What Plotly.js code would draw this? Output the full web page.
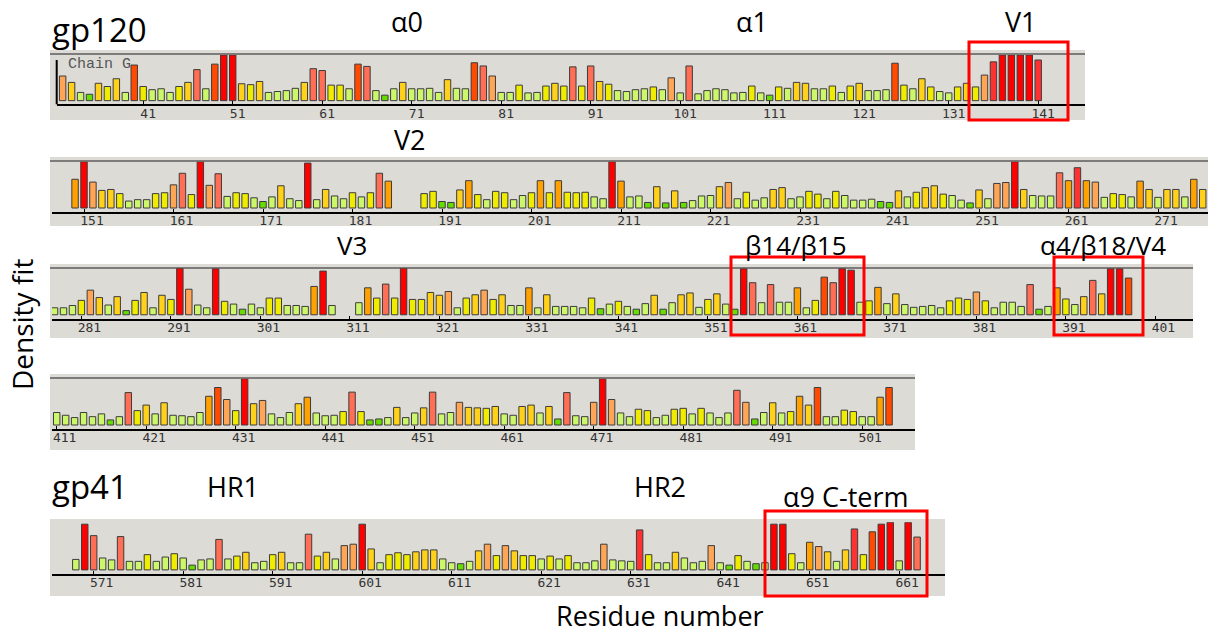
<!DOCTYPE html>
<html><head><meta charset="utf-8">
<script src="https://cdn.plot.ly/plotly-3.0.1.min.js"></script>
<style>html,body{margin:0;padding:0;background:#fff;}#chart{width:1208px;height:634px;}</style>
</head><body><div id="chart"></div>
<script>
// ---------- DATA (density fit per residue) ----------
const row1Start = 32;
const row1Fit = [0.54,0.40,0.18,0.14,0.38,0.31,0.48,0.18,0.78,0.31,
0.24,0.26,0.18,0.31,0.40,0.68,0.26,0.80,1.0,1.0,
0.37,0.35,0.42,0.18,0.20,0.22,0.27,0.40,0.70,0.66,
0.34,0.34,0.26,0.80,0.75,0.22,0.12,0.26,0.40,0.26,
0.26,0.27,0.18,0.46,0.27,0.26,0.83,0.76,0.54,0.18,
0.18,0.34,0.17,0.18,0.32,0.38,0.32,0.74,0.32,0.76,
0.42,0.36,0.22,0.20,0.24,0.26,0.30,0.24,0.50,0.17,
0.76,0.15,0.22,0.26,0.24,0.17,0.18,0.32,0.17,0.12,
0.30,0.27,0.40,0.38,0.26,0.26,0.32,0.18,0.32,0.38,
0.22,0.22,0.24,0.82,0.34,0.26,0.48,0.30,0.20,0.17,
0.30,0.38,0.30,0.56,0.85,1.0,1.0,1.0,1.0,0.89];

const row2Start = 150;
const row2Fit = [0.62,1.0,0.56,0.38,0.40,0.31,0.15,0.18,0.18,0.31,
0.33,0.50,0.75,0.29,1.0,0.49,0.74,0.25,0.33,0.31,
0.22,0.14,0.24,0.48,0.20,0.16,0.97,0.18,0.40,0.26,
0.20,0.33,0.24,0.33,0.75,0.58,null,null,null,0.31,
0.36,0.14,0.12,0.39,0.59,0.29,0.18,0.36,0.33,0.18,
0.27,0.33,0.59,0.33,0.59,0.34,0.33,0.34,0.24,0.20,
1.0,0.58,0.24,0.26,0.12,0.46,0.11,0.37,0.12,0.16,
0.26,0.27,0.46,0.55,0.20,0.34,0.17,0.22,0.40,0.44,
0.20,0.24,0.36,0.30,0.20,0.36,0.27,0.17,0.17,0.19,
0.14,0.12,0.37,0.24,0.34,0.44,0.48,0.30,0.27,0.17,
0.11,0.39,0.20,0.53,0.55,1.0,0.40,0.27,0.26,0.26,
0.76,0.59,0.87,0.59,0.56,0.23,0.31,0.29,0.24,0.58,
0.40,0.23,0.40,0.40,0.24,0.62,0.40];

const row3Start = 278;
const row3Fit = [0.15,0.15,0.20,0.31,0.53,0.37,0.21,0.39,0.09,0.31,
0.48,0.15,0.42,0.33,1.0,0.55,0.21,0.15,0.99,0.29,
0.23,0.12,0.23,0.15,0.36,0.36,0.20,0.20,0.18,0.61,
0.94,0.20,null,null,0.26,0.58,0.36,0.66,0.36,1.0,
0.33,0.33,0.48,0.42,0.50,0.15,0.36,0.43,0.53,0.33,
0.43,0.20,0.20,0.58,0.15,0.43,0.18,0.18,0.18,0.15,
0.36,0.13,0.23,0.29,0.18,0.12,0.24,0.42,0.12,0.26,
0.43,0.47,0.16,0.33,0.45,0.23,0.12,0.99,0.69,0.26,
0.65,0.27,0.27,0.58,0.15,0.31,0.81,0.69,0.99,0.96,
0.27,0.30,0.59,0.24,0.45,0.22,0.16,0.18,0.20,0.15,
0.30,0.36,0.33,0.49,0.30,0.15,0.27,0.27,0.18,0.65,
0.12,0.18,0.58,0.34,0.22,0.39,0.74,0.45,0.99,0.99,
0.79];

const row4Start = 411;
const row4Fit = [0.27,0.21,0.16,0.27,0.18,0.24,0.11,0.18,0.70,0.31,
0.43,0.24,0.48,0.21,0.20,0.18,0.27,0.62,0.81,0.55,
0.31,1.0,0.46,0.53,0.24,0.16,0.27,0.46,0.60,0.26,
0.20,0.21,0.29,0.71,0.29,0.11,0.13,0.16,0.38,0.16,
0.26,0.37,0.71,0.24,0.27,0.49,0.38,0.37,0.36,0.40,
0.24,0.21,0.40,0.43,0.26,0.40,0.13,0.70,0.20,0.18,
0.49,1.0,0.55,0.26,0.18,0.34,0.31,0.16,0.21,0.34,
0.36,0.24,0.36,0.26,0.16,0.26,0.75,0.49,0.13,0.27,
0.48,0.26,0.29,0.62,0.43,0.81,0.18,0.18,0.32,0.29,
0.18,0.18,0.60,0.81];

const row5Start = 569;
const row5Fit = [0.22,0.96,0.72,0.25,0.21,0.70,0.18,0.18,0.32,0.18,
0.27,0.34,0.25,0.10,0.21,0.23,0.64,0.23,0.29,0.37,
0.15,0.18,0.32,0.37,0.15,0.15,0.75,0.29,0.37,0.23,
0.51,0.54,0.96,0.44,0.15,0.32,0.36,0.32,0.38,0.42,
0.42,0.23,0.15,0.13,0.18,0.40,0.54,0.30,0.51,0.40,
0.30,0.30,0.23,0.29,0.23,0.30,0.15,0.15,0.19,0.54,
0.21,0.19,0.18,0.84,0.32,0.15,0.15,0.37,0.25,0.15,
0.18,0.51,0.15,0.10,0.30,0.18,0.13,0.15,0.96,0.96,
0.34,0.15,0.58,0.49,0.38,0.18,0.42,0.86,0.32,0.80,
0.96,1.0,0.19,1.0,0.69];

const row1Ticks = [41,51,61,71,81,91,101,111,121,131,141];
const row2Ticks = [151,161,171,181,191,201,211,221,231,241,251,261,271];
const row3Ticks = [281,291,301,311,321,331,341,351,361,371,381,391,401];
const row4Ticks = [411,421,431,441,451,461,471,481,491,501];
const row5Ticks = [571,581,591,601,611,621,631,641,651,661];

const proteinLabels = ["gp120","gp41"];
const regionLabels = ["α0","α1","V1","V2","V3","β14/β15","α4/β18/V4","HR1","HR2","α9 C-term"];
const axisTitles = {x:"Residue number", y:"Density fit"};

// ---------- STYLE / LAYOUT ----------
const W = 1208, H = 634, PITCH = 8.95;
const fx = p => p / W, fy = p => 1 - p / H;
const fitColors = ['#66DD00','#CCF76B','#F0EC00','#FFD11A','#FFA556','#FFA200','#FF6E55','#FF4A00','#FF3232','#FF0000'];
const fitBreaks = [0,0.145,0.28,0.365,0.485,0.57,0.63,0.77,0.835,0.92,1.0];
const colorscale = [];
fitColors.forEach((c,i)=>{
  colorscale.push([fitBreaks[i], c]);
  colorscale.push([i===fitColors.length-1 ? 1 : fitBreaks[i+1]-1e-6, c]);
});
const tickFont = {family:'DejaVu Sans Mono, Liberation Mono, monospace', size:13, color:'#333'};

const rows = [
 {start:row1Start, fit:row1Fit, ticks:row1Ticks, left:56.7, right:1085, top:55,  axis:104.3, ancRes:41,  ancPx:143.2, shift:5,
  panel:[50,1085,50,120], topLine:54},
 {start:row2Start, fit:row2Fit, ticks:row2Ticks, left:52, right:1208, top:161.7, axis:211.7, ancRes:151, ancPx:84,   shift:8,
  panel:[50,1208,157,226], topLine:161},
 {start:row3Start, fit:row3Fit, ticks:row3Ticks, left:52, right:1193, top:268.3, axis:318.5, ancRes:281, ancPx:81.4, shift:8,
  panel:[50,1193,264,338], topLine:268},
 {start:row4Start, fit:row4Fit, ticks:row4Ticks, left:52, right:915,  top:378.7, axis:428.7, ancRes:411, ancPx:56.7, shift:8,
  panel:[50,915,374,450], topLine:378},
 {start:row5Start, fit:row5Fit, ticks:row5Ticks, left:52, right:945,  top:522.3, axis:573.7, ancRes:571, ancPx:93.7, shift:8,
  panel:[50,945,519,596], topLine:null}
];

const traces = [];
const layout = {
  width:W, height:H, margin:{l:0,r:0,t:0,b:0},
  paper_bgcolor:'#ffffff', plot_bgcolor:'rgba(0,0,0,0)',
  showlegend:false, bargap:0,
  shapes:[], annotations:[]
};

rows.forEach((r,i)=>{
  const n = i+1, xa = 'x'+(n===1?'':n), ya = 'y'+(n===1?'':n);
  const xs = r.fit.map((_,k)=>r.start+k);
  traces.push({
    type:'bar', x:xs, y:r.fit, xaxis:xa, yaxis:ya, width:0.72,
    marker:{color:r.fit, colorscale:colorscale, cmin:0, cmax:1, showscale:false,
            line:{color:'#3c3c3c', width:1}},
    hoverinfo:'x+y'
  });
  const range = [r.ancRes - (r.ancPx - r.left)/PITCH, r.ancRes + (r.right - r.ancPx)/PITCH];
  layout['xaxis'+(n===1?'':n)] = {
    domain:[fx(r.left), fx(r.right)], range:range, anchor:ya,
    showgrid:false, zeroline:false, showline:true, linecolor:'#000', linewidth:2,
    ticks:'inside', ticklen:3, tickwidth:1, tickcolor:'#000',
    tickmode:'array', tickvals:r.ticks, ticktext:r.ticks.map(String),
    ticklabelshift:r.shift, ticklabelstandoff:-4,
    tickfont:tickFont,
    fixedrange:true
  };
  layout['yaxis'+(n===1?'':n)] = {
    domain:[fy(r.axis), fy(r.top)], range:[-0.08,1.0], anchor:xa,
    showgrid:false, zeroline:false, showline:false, showticklabels:false, ticks:'', fixedrange:true
  };
  const p = r.panel;
  layout.shapes.push({type:'rect', xref:'paper', yref:'paper', layer:'below',
    x0:fx(p[0]), x1:fx(p[1]), y0:fy(p[3]), y1:fy(p[2]), fillcolor:'#DDDBD6', line:{width:0}});
  if (r.topLine !== null) {
    layout.shapes.push({type:'line', xref:'paper', yref:'paper', layer:'below',
      x0:fx(p[0]), x1:fx(p[1]), y0:fy(r.topLine), y1:fy(r.topLine), line:{color:'#5c5c5c', width:1.5}});
  }
});

// left axis line of first panel
layout.shapes.push({type:'line', xref:'paper', yref:'paper', x0:fx(56.7), x1:fx(56.7), y0:fy(60), y1:fy(104.3),
  line:{color:'#000', width:2}});

// red highlight boxes
[[969,1068,42,120],[731,864,257,335],[1054,1143,257,335],[765,927,511,596]].forEach(b=>{
  layout.shapes.push({type:'rect', xref:'paper', yref:'paper', layer:'above',
    x0:fx(b[0]), x1:fx(b[1]), y0:fy(b[3]), y1:fy(b[2]), fillcolor:'rgba(0,0,0,0)',
    line:{color:'#FF0000', width:3}});
});

const ann = (text,x,y,size,opts={}) => Object.assign({text:text, xref:'paper', yref:'paper', x:fx(x), y:fy(y),
  xanchor:'center', yanchor:'middle', showarrow:false, borderpad:0,
  font:{family:'Open Sans, Noto Sans, sans-serif', size:size, color:'#000'}}, opts);

layout.annotations.push(ann(proteinLabels[0], 51, 29, 33, {xanchor:'left'}));
layout.annotations.push(ann(proteinLabels[1], 51, 486, 33, {xanchor:'left'}));
const regionPos = [[407,21.5],[752,21.5],[1021,21.5],[410,139.5],[352,245],[796,245],[1103,245],[233,486.5],[660,486.5],[845,496.5]];
const regionSize = [27,27,27,27,26,26,26,27,27,27];
regionLabels.forEach((t,i)=>layout.annotations.push(ann(t, regionPos[i][0], regionPos[i][1], regionSize[i])));
layout.annotations.push(ann(axisTitles.x, 660, 615.5, 27));
layout.annotations.push(ann(axisTitles.y, 22, 325, 28, {textangle:-90}));
layout.annotations.push(ann('Chain G', 99, 64, 15, {font:{family:'Liberation Mono, DejaVu Sans Mono, monospace', size:15, color:'#555'}}));

Plotly.newPlot('chart', traces, layout, {displayModeBar:false, staticPlot:true});
</script></body></html>
